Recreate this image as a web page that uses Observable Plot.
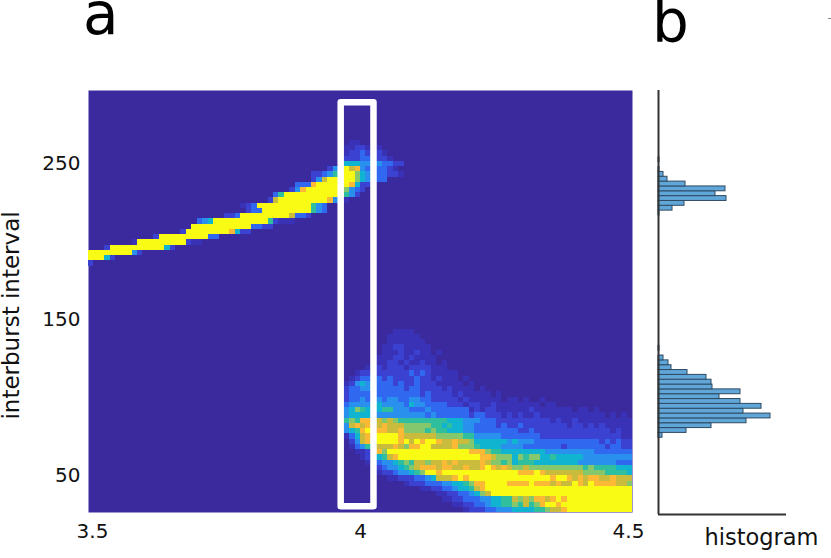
<!DOCTYPE html>
<html>
<head>
<meta charset="utf-8">
<script src="https://cdn.jsdelivr.net/npm/d3@7"></script>
<script src="https://cdn.jsdelivr.net/npm/@observablehq/plot@0.6"></script>
<style>
html,body{margin:0;padding:0;background:#fff;width:831px;height:558px;overflow:hidden}
#wrap{position:relative;width:831px;height:558px;font-family:"DejaVu Sans",sans-serif;color:#111}
#wrap svg{position:absolute;top:0;overflow:visible;background:transparent}
.big{position:absolute;font-size:58px;line-height:58px;color:#000}
</style>
</head>
<body>
<div id="wrap"></div>
<script>
// Panel a: heat map levels (0 = background ... a = saturated yellow)
const xTicks = [3.5, 4, 4.5];
const xTickLabels = ["3.5", "4", "4.5"];
const yTicks = [50, 150, 250];
const levelColors = ["#3b2a9e","#3a32b6","#3b42d2","#3068f0","#2a90ee","#10b4d0","#2fbf9f","#84c76c","#c9bc3c","#fbb935","#f9fb15"];

// lower branch: rows counted from the bottom of the image, columns start at index 47
const lowerStartCol = 47;
const lowerRows = [
"0000000000 0000000000 0012223344 4555566788 9aaaaaaaaa aaa",
"0000000000 0000000000 1122334556 6768679aa9 aaaaaaaaaa aaa",
"0000000000 0000000011 2233344556 687879989a 9aaaaaaaaa aaa",
"0000000000 0000000112 2334578aaa aaaaaaaaaa aaaaaaaaaa aaa",
"0000000000 0000112233 455689aaaa aaaaaaaaaa aaaaaaaaaa aaa",
"0000000000 0122233344 556799aaaa 9999a99989 88a98a9999 887",
"0000000011 2223345888 9a9aaaaaaa aaaaaaaa9a a989899889 888",
"0000001223 44567aa9aa aaaaaaaaaa aa999a9888 8888777766 665",
"0000012344 5678999899 889889a989 8778777777 7777676666 555",
"0000123445 6768878898 9888898776 7566655555 5554444444 333",
"0001235689 aaaaaaaaaa aaaaa99877 7576775565 5555444444 444",
"0011279 7aa aaaaaaaaaa aaa9997665 5555555444 4444443333 333",
"0134688889 8799aa8888 9777655554 4443333333 2333333323 322",
"02489aaaaa 9a8a9aa988 9887555555 4544433333 3333333232 322",
"13589aaaaa 9888888777 7766444443 3333332222 2222222222 211",
"4569a99988 9777767665 5544333333 3322322222 2222222221 211",
"48989a8988 8777776656 5544333323 2232222222 2122121211 111",
"6769998787 6666666665 5544433322 2222222212 1121111111 111",
"4555554444 4444434333 3332332221 2121121111 1111111101 010",
"4576555664 4433343333 3331212211 1111211111 1101101000 000",
"3444455444 4354433332 2212211211 1111110110 0000000000 000",
"2334344344 3344332222 2121111110 1101001000 0000000000 000",
"2333333333 3333232222 1211111010 0000000000 0000000000 000",
"2334433333 3233222212 1111010000 0000000000 0000000000 000",
"1245443332 3223222111 1101000000 0000000000 0000000000 000",
"0123333232 2223221211 1010000000 0000000000 0000000000 000",
"0012222222 2232321111 1000000000 0000000000 0000000000 000",
"0000122122 2122221110 0000000000 0000000000 0000000000 000",
"0000011122 1211211010 0000000000 0000000000 0000000000 000",
"0000001112 2121111000 0000000000 0000000000 0000000000 000",
"0000000111 2112110100 0000000000 0000000000 0000000000 000",
"0000000112 2111110000 0000000000 0000000000 0000000000 000",
"0000000011 1111100000 0000000000 0000000000 0000000000 000",
"0000000011 1111000000 0000000000 0000000000 0000000000 000",
"0000000001 1110000000 0000000000 0000000000 0000000000 000"
];

// upper branch: one row each, with its row number and first column
const upperRowNumbers = [47,48,49,50,51,52,53,54,55,56,57,58,59,60,61,62,63,64,65,66,67,68,69,70];
const upperStartCols  = [0,0,0,3,8,12,17,19,20,25,29,28,33,34,37,38,41,41,44,46,47,47,47,48];
const upperRows = [
"2",
"aaa52",
"aaaaaaaa42",
"2aaaaaaaaaa52",
"1aaaaaaaaa211",
"2aaaaaaaaa33",
"2aaaaaaaa9522",
"aaaaaaaaaaa3322",
"345aaaaaaaaaa62111",
"223aaaaaaaaa8332",
"233aaaaaaaaa643",
"123aaaaaaaaaa643",
"28aaaaaaaaa9421",
"36aaaaaaaaaaa642",
"249aaaaaaa7432",
"3339aaaaaa9522",
"248aaaaa75433 3",
"2234 6aaa7544 33221",
"246a8943 3332 1",
"3555444 4332 2",
"22233 322 1",
"12232 221",
"11221 11",
"11"
];

// Panel b: histogram counts, read bottom to top
const lowerHistStart = 74.2;
const lowerHistCounts = [4,28,53,88,112,85,103,82,61,82,54,53,48,29,13,10,5,0,1];
const upperHistStart = 216.7;
const upperHistCounts = [1,14,26,68,57,67,27,9,5,1,0,1];
const histBinWidth = 3.1;

// white selection box
const boxX = [3.9645, 4.0248];
const boxY = [30, 289];

const colWidth = 0.01;
const rowBase = 26.3, rowHeight = 3.36;
const yDomain = [rowBase, 296.8];

const cells = [];
function addRow(r, start, str) {
  [...str.replace(/ /g, "")].forEach((ch, i) => {
    const level = parseInt(ch, 11);
    const c = start + i;
    if (level > 0 && c < 100) cells.push({c, r, level});
  });
}
lowerRows.forEach((s, r) => addRow(r, lowerStartCol, s));
upperRows.forEach((s, i) => addRow(upperRowNumbers[i], upperStartCols[i], s));

const panelA = Plot.plot({
  width: 645, height: 558,
  marginLeft: 88, marginRight: 13, marginTop: 90, marginBottom: 46,
  x: {domain: [3.5, 4.5], axis: null},
  y: {domain: yDomain, axis: null},
  color: {type: "ordinal", domain: d3.range(levelColors.length), range: levelColors},
  style: {fontFamily: '"DejaVu Sans", sans-serif', background: "transparent", overflow: "visible"},
  marks: [
    Plot.frame({fill: levelColors[0], stroke: "none"}),
    Plot.rect(cells, {
      x1: d => 3.5 + d.c * colWidth, x2: d => 3.5 + (d.c + 1) * colWidth,
      y1: d => rowBase + d.r * rowHeight, y2: d => rowBase + (d.r + 1) * rowHeight,
      fill: "level", shapeRendering: "crispEdges"
    }),
    Plot.rect([0], {
      x1: boxX[0], x2: boxX[1], y1: boxY[0], y2: boxY[1],
      fill: "none", stroke: "#fff", strokeWidth: 6.5, strokeLinejoin: "round"
    }),
    ...xTicks.map((t, i) => Plot.text([t], {
      x: d => d, frameAnchor: "bottom", dy: 25, dx: [4, 0, -4][i],
      text: () => xTickLabels[i], fontSize: 20, fill: "#111"
    })),
    Plot.text(yTicks, {
      y: d => d, frameAnchor: "left", dx: -8, textAnchor: "end",
      text: d => String(d), fontSize: 20, fill: "#111"
    }),
    Plot.text(["interburst interval"], {
      y: () => 152.6, frameAnchor: "left", dx: -77, rotate: -90, textAnchor: "middle",
      text: d => d, fontSize: 23, fill: "#111"
    })
  ]
});
panelA.style.left = "0px";
const cellGroups = panelA.querySelectorAll('g[aria-label="rect"]');
if (cellGroups[0]) cellGroups[0].style.filter = "blur(0.6px)";

const histBars = [
  ...lowerHistCounts.map((n, i) => ({n, y: lowerHistStart + i * histBinWidth})),
  ...upperHistCounts.map((n, i) => ({n, y: upperHistStart + i * histBinWidth}))
].filter(d => d.n > 0);

const panelB = Plot.plot({
  width: 191, height: 558,
  marginLeft: 18, marginRight: 45, marginTop: 90, marginBottom: 44,
  x: {domain: [0, 128], axis: null},
  y: {domain: [25, 296.8], axis: null},
  style: {fontFamily: '"DejaVu Sans", sans-serif', background: "transparent", overflow: "visible"},
  marks: [
    Plot.rect(histBars, {
      x1: 0, x2: "n", y1: "y", y2: d => d.y + histBinWidth,
      fill: "#60a6d9", stroke: "#2e4a62", strokeWidth: 1
    }),
    Plot.ruleX([0], {stroke: "#333", strokeWidth: 2}),
    Plot.ruleY([25], {stroke: "#333", strokeWidth: 2}),
    Plot.text(["histogram"], {
      x: () => 103, frameAnchor: "bottom", dy: 30,
      text: d => d, fontSize: 22.5, fill: "#111"
    })
  ]
});
panelB.style.left = "640px";

const wrap = document.getElementById("wrap");
wrap.append(panelA, panelB);
for (const [txt, left, top] of [["a", 83, -15], ["b", 652, -7]]) {
  const el = document.createElement("div");
  el.className = "big";
  el.textContent = txt;
  el.style.left = left + "px";
  el.style.top = top + "px";
  wrap.append(el);
}
const dash = document.createElement("div");
dash.style.cssText = "position:absolute;left:828px;top:18px;width:3px;height:1px;background:#888";
wrap.append(dash);
</script>
</body>
</html>
